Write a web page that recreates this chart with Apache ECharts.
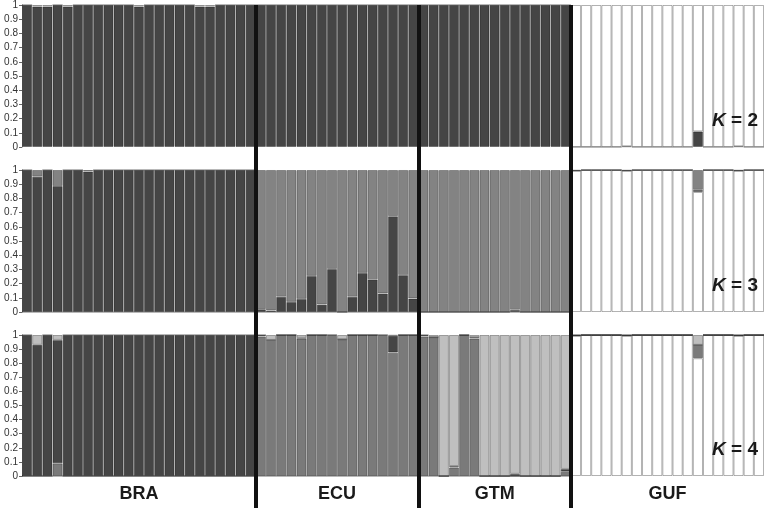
<!DOCTYPE html>
<html>
<head>
<meta charset="utf-8">
<script src="https://cdn.jsdelivr.net/npm/echarts@6/dist/echarts.min.js"></script>
<style>
  html, body { margin: 0; padding: 0; background: #fff; }
  #chart { width: 766px; height: 510px; }
</style>
</head>
<body>
<div id="chart"></div>
<script>
// populations and number of individuals in each
var pops = ['BRA', 'ECU', 'GTM', 'GUF'];
var popSizes = [23, 16, 15, 19];
var yTicks = [0, 0.1, 0.2, 0.3, 0.4, 0.5, 0.6, 0.7, 0.8, 0.9, 1];

// K = 2  (stack order bottom -> top: dark, white)
var k2Dark = [
    1, 0.99, 0.99, 1, 0.99, 1, 1, 1, 1, 1, 1, 0.99, 1, 1, 1, 1, 1, 0.99, 0.99, 1, 1, 1, 1,
    1, 1, 1, 1, 1, 1, 1, 1, 1, 1, 1, 1, 1, 1, 1, 1,
    1, 1, 1, 1, 1, 1, 1, 1, 1, 1, 1, 1, 1, 1, 1,
    0, 0, 0, 0, 0, 0.005, 0, 0, 0, 0, 0, 0, 0.11, 0, 0, 0, 0.005, 0, 0
];
var k2White = [
    0, 0.01, 0.01, 0, 0.01, 0, 0, 0, 0, 0, 0, 0.01, 0, 0, 0, 0, 0, 0.01, 0.01, 0, 0, 0, 0,
    0, 0, 0, 0, 0, 0, 0, 0, 0, 0, 0, 0, 0, 0, 0, 0,
    0, 0, 0, 0, 0, 0, 0, 0, 0, 0, 0, 0, 0, 0, 0,
    1, 1, 1, 1, 1, 0.995, 1, 1, 1, 1, 1, 1, 0.89, 1, 1, 1, 0.995, 1, 1
];

// K = 3  (bottom -> top: white, dark, medium)
var k3White = [
    0, 0, 0, 0, 0, 0, 0, 0, 0, 0, 0, 0, 0, 0, 0, 0, 0, 0, 0, 0, 0, 0, 0,
    0, 0, 0, 0, 0, 0, 0, 0, 0, 0, 0, 0, 0, 0, 0, 0,
    0, 0, 0, 0, 0, 0, 0, 0, 0, 0, 0, 0, 0, 0, 0,
    0.995, 1, 1, 1, 1, 0.995, 1, 1, 1, 1, 1, 1, 0.845, 1, 1, 1, 0.995, 1, 1
];
var k3Dark = [
    1, 0.953, 1, 0.887, 1, 1, 0.99, 1, 1, 1, 1, 1, 1, 1, 1, 1, 1, 1, 1, 1, 1, 1, 1,
    0.02, 0.01, 0.107, 0.071, 0.092, 0.254, 0.052, 0.303, 0, 0.107, 0.275, 0.23, 0.13, 0.675, 0.26, 0.095,
    0, 0, 0, 0, 0, 0, 0, 0, 0, 0.015, 0, 0, 0, 0, 0,
    0, 0, 0, 0, 0, 0, 0, 0, 0, 0, 0, 0, 0.015, 0, 0, 0, 0, 0, 0
];
var k3Medium = [
    0, 0.047, 0, 0.113, 0, 0, 0.01, 0, 0, 0, 0, 0, 0, 0, 0, 0, 0, 0, 0, 0, 0, 0, 0,
    0.98, 0.99, 0.893, 0.929, 0.908, 0.746, 0.948, 0.697, 1, 0.893, 0.725, 0.77, 0.87, 0.325, 0.74, 0.905,
    1, 1, 1, 1, 1, 1, 1, 1, 1, 0.985, 1, 1, 1, 1, 1,
    0.005, 0, 0, 0, 0, 0.005, 0, 0, 0, 0, 0, 0, 0.14, 0, 0, 0, 0.005, 0, 0
];

// K = 4  (bottom -> top: white, medium, dark, light)
var k4White = [
    0, 0, 0, 0, 0, 0, 0, 0, 0, 0, 0, 0, 0, 0, 0, 0, 0, 0, 0, 0, 0, 0, 0,
    0, 0, 0, 0, 0, 0, 0, 0, 0, 0, 0, 0, 0, 0, 0, 0,
    0, 0, 0, 0, 0, 0, 0, 0, 0, 0, 0, 0, 0, 0, 0,
    0.995, 1, 1, 1, 1, 0.995, 1, 1, 1, 1, 1, 1, 0.835, 1, 1, 1, 0.995, 1, 1
];
var k4Medium = [
    0, 0, 0, 0.09, 0, 0, 0, 0, 0, 0, 0, 0, 0, 0, 0, 0, 0, 0, 0, 0, 0, 0, 0,
    0.99, 0.965, 1, 1, 0.975, 1, 1, 0.995, 0.97, 1, 1, 1, 0.995, 0.875, 1, 1,
    0.99, 0.985, 0, 0.06, 1, 0.975, 0, 0, 0, 0, 0, 0, 0, 0, 0.03,
    0, 0, 0, 0, 0, 0, 0, 0, 0, 0, 0, 0, 0.095, 0, 0, 0, 0, 0, 0
];
var k4Dark = [
    1, 0.93, 1, 0.875, 1, 1, 1, 1, 1, 1, 1, 1, 1, 1, 1, 1, 1, 1, 1, 1, 1, 1, 1,
    0.01, 0, 0, 0, 0.005, 0, 0, 0.005, 0, 0, 0, 0, 0.005, 0.12, 0, 0,
    0.01, 0, 0, 0.01, 0, 0.01, 0, 0, 0, 0.015, 0, 0, 0, 0, 0.02,
    0.005, 0, 0, 0, 0, 0.005, 0, 0, 0, 0, 0, 0, 0, 0, 0, 0, 0.005, 0, 0
];
var k4Light = [
    0, 0.07, 0, 0.035, 0, 0, 0, 0, 0, 0, 0, 0, 0, 0, 0, 0, 0, 0, 0, 0, 0, 0, 0,
    0, 0.035, 0, 0, 0.02, 0, 0, 0, 0.03, 0, 0, 0, 0, 0.005, 0, 0,
    0, 0.015, 1, 0.93, 0, 0.015, 1, 1, 1, 0.985, 1, 1, 1, 1, 0.95,
    0, 0, 0, 0, 0, 0, 0, 0, 0, 0, 0, 0, 0.07, 0, 0, 0, 0, 0, 0
];

var DARK = '#454545', MED3 = '#838383', MED4 = '#7a7a7a', LIGHT = '#bfbfbf', WHITE = '#ffffff';
var FONT = '"Liberation Sans", Arial, sans-serif';

// individual ids, population centres and boundaries
var ids = [];
var centers = [];
var bounds = [];
var total = 0;
for (var p = 0; p < pops.length; p++) {
    for (var i = 0; i < popSizes[p]; i++) ids.push(pops[p] + '_' + (i + 1));
    centers.push(total + popSizes[p] / 2);
    total += popSizes[p];
    if (p < pops.length - 1) bounds.push({ xAxis: total });
}

var panels = [
    { top: 5, height: 142, k: 2, layers: [[k2Dark, DARK], [k2White, WHITE]] },
    { top: 170, height: 142, k: 3, layers: [[k3White, WHITE], [k3Dark, DARK], [k3Medium, MED3]] },
    { top: 335, height: 141, k: 4, layers: [[k4White, WHITE], [k4Medium, MED4], [k4Dark, DARK], [k4Light, LIGHT]] }
];

var grid = [], xAxis = [], yAxis = [], series = [], title = [];

panels.forEach(function (pn, g) {
    grid.push({ left: 22, right: 2, top: pn.top, height: pn.height });
    xAxis.push({ type: 'category', gridIndex: g, data: ids, show: false });
    yAxis.push({
        type: 'value', gridIndex: g, min: 0, max: 1, interval: 0.1,
        splitLine: { show: false },
        axisLine: { show: true, lineStyle: { color: '#888', width: 1 } },
        axisTick: { show: true, length: 3, lineStyle: { color: '#666' } },
        axisLabel: { fontSize: 10, color: '#333', margin: 4, fontFamily: FONT }
    });
    pn.layers.forEach(function (ly, j) {
        series.push({
            type: 'bar', xAxisIndex: g, yAxisIndex: g, stack: 'k' + pn.k,
            barCategoryGap: '0%', data: ly[0], silent: true,
            itemStyle: { color: ly[1], borderColor: 'rgba(0,0,0,0.3)', borderWidth: 1 }
        });
    });
    title.push({
        text: '{k|K} = ' + pn.k, right: 8, top: pn.top + pn.height - 36, padding: 0,
        textStyle: {
            fontSize: 19, fontWeight: 'bold', color: '#1a1a1a', fontFamily: FONT,
            rich: { k: { fontSize: 19, fontWeight: 'bold', fontStyle: 'italic', color: '#1a1a1a', fontFamily: FONT } }
        }
    });
});

// population names under the bottom panel
xAxis.push({
    type: 'value', gridIndex: 2, min: 0, max: total, position: 'bottom',
    axisLine: { show: false }, axisTick: { show: false }, splitLine: { show: false },
    axisLabel: {
        customValues: centers, margin: 9, fontSize: 18, fontWeight: 'bold', color: '#1a1a1a', fontFamily: FONT,
        formatter: function (v) {
            var idx = centers.indexOf(v);
            return idx >= 0 ? pops[idx] : '';
        }
    }
});

// overlay grid for the thick population separators
grid.push({ left: 22, right: 2, top: 5, bottom: 2 });
xAxis.push({ type: 'value', gridIndex: 3, min: 0, max: total, show: false });
yAxis.push({ type: 'value', gridIndex: 3, min: 0, max: 1, show: false });
series.push({
    type: 'scatter', xAxisIndex: 4, yAxisIndex: 3, data: [], symbolSize: 0, z: 10, silent: true,
    markLine: {
        silent: true, symbol: 'none', label: { show: false },
        lineStyle: { color: '#111', width: 4, type: 'solid' },
        data: bounds
    }
});

var myChart = echarts.init(document.getElementById('chart'), null, { renderer: 'canvas' });
myChart.setOption({
    animation: false,
    backgroundColor: '#fff',
    title: title,
    grid: grid,
    xAxis: xAxis,
    yAxis: yAxis,
    series: series
});
</script>
</body>
</html>
